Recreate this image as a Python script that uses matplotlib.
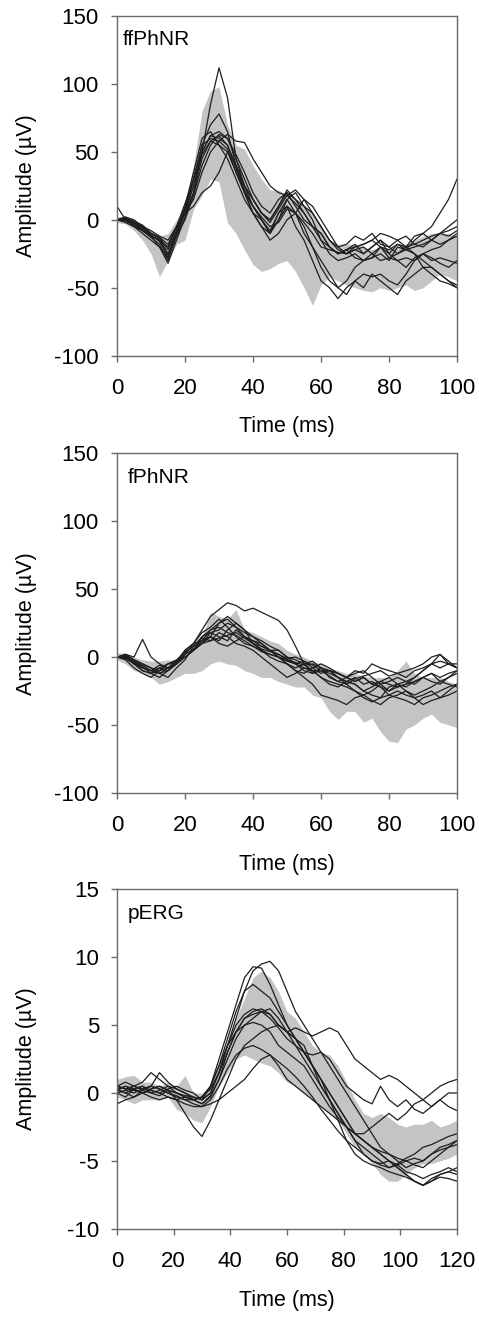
import matplotlib.pyplot as plt
import numpy as np

plt.rcParams['font.family'] = ['Liberation Sans', 'DejaVu Sans']
plt.rcParams['axes.unicode_minus'] = False

# time base (ms)
t_phnr = [0, 2.5, 5, 7.5, 10, 12.5, 15, 17.5, 20, 22.5, 25, 27.5, 30, 32.5, 35, 37.5, 40,
          42.5, 45, 47.5, 50, 52.5, 55, 57.5, 60, 62.5, 65, 67.5, 70, 72.5, 75, 77.5, 80,
          82.5, 85, 87.5, 90, 92.5, 95, 97.5, 100]
t_perg = [0, 3, 6, 9, 12, 15, 18, 21, 24, 27, 30, 33, 36, 39, 42, 45, 48, 51, 54, 57, 60,
          63, 66, 69, 72, 75, 78, 81, 84, 87, 90, 93, 96, 99, 102, 105, 108, 111, 114, 117, 120]

# ffPhNR: normal range and individual traces (uV)
ff_upper = [2, 3, 0, -3, -8, -12, -10, 0, 10, 40, 80, 95, 98, 70, 55, 52, 40, 30, 22, 22,
            18, 15, 10, 5, -5, -15, -18, -18, -18, -20, -22, -20, -22, -20, -18, -15, -12,
            -10, -10, -10, -12]
ff_lower = [-2, -3, -8, -15, -25, -42, -30, -18, -15, 8, 18, 30, 28, -2, -10, -22, -33, -38,
            -36, -32, -30, -38, -50, -63, -48, -42, -45, -48, -50, -52, -53, -50, -52, -50,
            -48, -52, -50, -45, -40, -42, -45]
ff_traces = [
    [0, -2, -5, -10, -15, -20, -28, -12, 5, 20, 50, 85, 112, 90, 45, 25, 15, 5, 0, 10, 20, 10,
     0, -5, -10, -20, -25, -22, -18, -25, -20, -15, -25, -18, -22, -20, -18, -15, -10, -12, -8],
    [0, 1, -3, -8, -13, -18, -30, -10, 8, 30, 55, 70, 78, 65, 40, 20, 10, 0, -10, 5, 15, 5,
     -10, -20, -35, -45, -50, -45, -35, -30, -28, -25, -30, -20, -22, -25, -30, -35, -40, -45, -48],
    [0, 0, -3, -6, -12, -15, -20, -5, 5, 15, 35, 50, 58, 63, 58, 57, 45, 35, 25, 20, 18, 12,
     5, -5, -15, -20, -25, -22, -20, -18, -15, -20, -25, -30, -28, -30, -25, -28, -32, -35, -30],
    [0, 2, -2, -5, -8, -12, -15, -5, 5, 10, 20, 25, 35, 50, 40, 25, 10, 0, -10, 0, 10, 5,
     -5, -20, -30, -40, -50, -55, -45, -50, -40, -45, -50, -55, -45, -40, -35, -35, -40, -45, -50],
    [0, 0, -2, -5, -10, -13, -22, -8, 8, 25, 50, 62, 60, 55, 40, 25, 15, 5, 0, 10, 22, 15,
     10, 5, -5, -15, -20, -25, -22, -25, -20, -15, -20, -25, -22, -15, -10, -5, 5, 15, 30],
    [0, 1, -1, -4, -10, -14, -25, -10, 5, 30, 55, 60, 58, 52, 35, 20, 5, -5, -10, 0, 15, 20,
     10, 0, -15, -25, -30, -28, -25, -30, -28, -20, -22, -18, -20, -25, -35, -40, -45, -47, -50],
    [0, 2, 0, -5, -12, -20, -32, -15, 2, 20, 45, 58, 62, 55, 38, 22, 10, 2, -5, -2, 8, 5,
     -2, -10, -20, -22, -24, -25, -22, -20, -25, -30, -28, -25, -20, -18, -15, -12, -10, -8, -5],
    [0, 0, -3, -7, -11, -16, -26, -8, 10, 35, 60, 65, 55, 45, 30, 15, 5, -5, -15, -10, 0, 5,
     15, 10, 0, -10, -20, -18, -12, -15, -10, -18, -20, -15, -12, -18, -20, -15, -10, -5, 0],
    [10, 0, -5, -8, -12, -15, -20, -5, 5, 25, 48, 58, 55, 50, 35, 20, 5, 0, -8, 5, 10, -5,
     -15, -30, -45, -50, -58, -50, -45, -40, -42, -40, -45, -48, -40, -30, -25, -30, -28, -30, -32],
    [0, -1, -4, -8, -12, -15, -28, -12, 0, 18, 40, 55, 63, 60, 45, 30, 15, 5, -2, 8, 18, 22,
     15, 5, -5, -15, -22, -25, -20, -18, -15, -10, -12, -15, -20, -12, -10, -15, -18, -15, -12],
    [0, 1, -2, -6, -10, -13, -18, -5, 12, 30, 50, 62, 65, 60, 48, 35, 20, 10, 5, 15, 20, 15,
     5, -5, -10, -20, -25, -22, -28, -30, -25, -20, -28, -30, -35, -28, -25, -22, -20, -15, -10],
]

# fPhNR
f_upper = [3, 3, 0, -2, -3, -3, -2, -3, 0, 5, 15, 33, 30, 28, 35, 20, 18, 15, 12, 10, 5, 2,
           0, -3, -5, -8, -10, -12, -12, -14, -15, -15, -15, -10, -3, -12, -15, -15, -15, -18, -20]
f_lower = [-2, -5, -10, -12, -15, -20, -18, -15, -12, -12, -10, -5, -3, -5, -6, -10, -12, -15,
           -15, -18, -20, -22, -22, -28, -30, -40, -46, -40, -40, -48, -45, -55, -62, -63, -53,
           -50, -45, -42, -48, -50, -52]
f_traces = [
    [0, 0, -5, -8, -10, -12, -10, -3, 5, 10, 20, 30, 35, 40, 38, 34, 36, 33, 30, 27, 20, 8,
     -5, -12, -10, -10, -12, -15, -18, -15, -20, -22, -25, -20, -25, -28, -25, -22, -18, -15, -10],
    [0, 2, 0, 13, 0, -5, -8, -3, 0, 5, 10, 15, 25, 30, 25, 20, 15, 10, 5, 0, -3, -5,
     -8, -10, -10, -12, -15, -20, -25, -30, -33, -30, -28, -30, -32, -35, -30, -28, -25, -22, -20],
    [0, -2, -8, -12, -15, -10, -5, -3, 0, 5, 15, 20, 25, 28, 22, 18, 15, 12, 8, 5, 0, -2,
     -5, -10, -15, -20, -22, -18, -20, -25, -28, -30, -22, -20, -18, -15, -10, -5, -8, -5, -8],
    [0, 1, -3, -6, -10, -8, -5, -2, 3, 8, 15, 18, 15, 12, 20, 15, 10, 8, 5, 2, -2, -5,
     -10, -12, -8, -15, -18, -15, -12, -10, -15, -20, -25, -22, -20, -15, -10, -5, 2, -5, -5],
    [0, 0, -5, -10, -12, -8, -10, -5, 0, 5, 10, 12, 18, 15, 10, 8, 5, 0, -5, -10, -15, -12,
     -8, -10, -15, -18, -20, -22, -25, -28, -32, -35, -30, -28, -25, -30, -35, -32, -30, -25, -20],
    [0, -1, -4, -8, -10, -12, -8, -5, 5, 10, 12, 15, 12, 20, 25, 20, 10, 5, 2, 0, -5, -8,
     -5, -3, -8, -10, -15, -18, -20, -25, -22, -18, -15, -20, -22, -18, -15, -12, -15, -12, -10],
    [0, 1, -2, -5, -8, -10, -5, -5, 2, 10, 18, 22, 28, 22, 15, 10, 8, 5, 0, -3, -5, -10,
     -12, -8, -5, -8, -12, -15, -10, -12, -5, -8, -10, -12, -15, -10, -8, -5, -3, -5, -8],
    [0, 0, -3, -7, -12, -15, -10, -5, 0, 5, 12, 15, 10, 8, 12, 15, 12, 10, 5, 0, -5, -10,
     -15, -20, -28, -30, -32, -35, -30, -28, -25, -20, -18, -15, -18, -20, -15, -12, -18, -20, -22],
    [0, 2, -2, -5, -8, -12, -15, -8, -2, 8, 10, 18, 20, 25, 22, 15, 12, 8, 5, 5, 0, -5,
     -3, -8, -12, -10, -15, -18, -15, -20, -18, -22, -28, -25, -28, -30, -28, -25, -30, -28, -25],
    [0, -1, -5, -10, -12, -10, -8, -4, 2, 6, 12, 20, 22, 18, 16, 12, 8, 4, 2, 0, -2, -4,
     -6, -5, -8, -10, -12, -15, -18, -15, -20, -18, -20, -22, -20, -18, -15, -18, -20, -15, -12],
    [0, 0, -4, -8, -10, -6, -8, -3, 4, 8, 14, 12, 14, 16, 18, 14, 10, 6, 4, 2, -1, 0,
     -3, -6, -10, -14, -18, -20, -16, -14, -12, -10, -14, -12, -10, -8, -5, 0, 2, -3, -8],
]

# pERG
p_upper = [1.0, 1.2, 1.3, 0.8, 0.8, 0.5, 0.8, 0.5, 1.3, 0.0, 0.0, 0.5, 2.0, 3.5, 5.5, 7.0,
           8.5, 9.0, 8.5, 7.5, 6.0, 5.5, 4.5, 3.5, 3.0, 2.8, 2.0, 0.8, -0.5, -1.5, -1.8, -1.5,
           -1.8, -2.3, -2.5, -2.3, -2.3, -2.0, -2.5, -2.3, -2.0]
p_lower = [-0.3, -0.5, -0.8, -0.5, -0.5, -0.5, -0.3, -1.2, -1.5, -2.0, -2.2, -1.0, 0.5, 1.5,
           2.5, 2.8, 2.5, 2.2, 2.0, 1.5, 0.8, 0.5, 0.0, -0.5, -1.0, -1.5, -2.0, -3.0, -4.0,
           -4.5, -5.2, -6.0, -6.5, -6.5, -6.0, -5.5, -5.2, -5.2, -5.0, -4.8, -4.5]
p_traces = [
    [0.3, 0.5, 0.2, 0.0, 0.3, 0.5, 0.2, 0.0, -0.2, -0.3, -0.5, 0.0, 1.5, 3.5, 5.5, 7.5, 9.0,
     9.5, 9.7, 9.0, 7.5, 6.0, 5.0, 4.0, 3.0, 2.0, 1.0, 0.0, -1.0, -2.0, -3.0, -4.0, -4.5,
     -5.0, -5.5, -5.2, -5.0, -4.5, -4.0, -3.8, -3.5],
    [0.5, 0.3, 0.5, 0.2, 0.0, 0.2, 0.5, 0.3, 0.0, -0.3, -0.5, 0.5, 2.5, 4.5, 6.5, 8.5, 9.3,
     9.2, 8.0, 6.5, 5.0, 4.0, 3.0, 2.0, 1.0, -0.5, -2.0, -3.5, -4.5, -5.0, -5.3, -5.5, -5.8,
     -6.0, -6.2, -6.5, -6.8, -6.5, -6.0, -5.8, -6.0],
    [0.0, 0.2, 0.0, 0.3, 0.5, 0.3, 0.0, -0.3, -0.5, -0.5, -0.3, 0.5, 2.0, 4.0, 6.0, 7.5, 8.0,
     7.5, 7.0, 6.0, 5.0, 4.0, 3.0, 2.0, 0.5, -0.5, -1.5, -2.5, -3.5, -4.0, -4.5, -5.0, -5.5,
     -5.3, -5.0, -4.8, -5.0, -4.5, -4.2, -4.0, -3.5],
    [0.5, 0.8, 0.5, 0.3, 0.5, 1.5, 0.8, 0.3, 0.0, -0.5, -0.8, -0.3, 1.0, 3.0, 4.5, 5.5, 6.0,
     6.2, 5.8, 5.0, 4.5, 4.8, 4.5, 4.2, 4.5, 4.8, 4.5, 3.5, 2.5, 2.0, 1.5, 1.0, 1.3, 1.0,
     0.5, 0.0, -0.5, 0.0, 0.5, 0.8, 1.0],
    [0.2, 0.0, 0.3, 0.5, 0.2, 0.0, 0.3, 0.5, 0.2, 0.0, -0.5, 0.0, 1.5, 3.5, 5.0, 5.8, 6.2,
     6.0, 5.5, 4.8, 4.0, 3.5, 3.0, 2.8, 3.0, 2.5, 1.5, 0.5, 0.0, -0.5, -0.8, 0.5, -0.5,
     -1.0, -0.5, -1.2, -1.5, -1.0, -0.5, -1.0, -1.3],
    [-0.8, -0.5, -0.3, 0.0, 0.3, 0.5, 0.2, -0.5, -1.5, -2.5, -3.2, -2.0, -0.5, 1.0, 2.5, 3.5,
     4.0, 4.5, 4.8, 5.0, 4.5, 4.0, 3.0, 2.0, 1.0, 0.0, -1.0, -2.0, -3.0, -3.5, -4.0, -4.3,
     -4.5, -4.8, -5.0, -5.3, -5.5, -5.0, -4.5, -4.0, -3.8],
    [0.5, 0.3, 0.2, 0.0, -0.3, -0.5, -0.3, -0.5, -0.8, -1.0, -1.0, -0.8, -0.5, 0.0, 0.5, 1.0,
     1.8, 2.5, 2.8, 2.0, 1.0, 0.5, 0.0, -0.5, -1.0, -1.5, -2.0, -2.5, -3.0, -3.5, -4.0, -4.5,
     -5.0, -5.5, -6.0, -6.5, -6.8, -6.5, -6.2, -6.3, -6.5],
    [0.3, 0.0, -0.3, 0.2, 0.5, 0.3, 0.0, -0.2, -0.5, -0.8, -1.0, -0.5, 0.5, 1.8, 2.8, 3.3,
     3.5, 3.2, 2.8, 2.3, 1.8, 1.2, 0.5, -0.3, -1.2, -2.0, -2.8, -3.5, -4.0, -4.5, -5.0, -5.2,
     -5.0, -5.3, -5.8, -6.0, -6.3, -6.0, -5.8, -5.5, -5.8],
    [0.0, -0.3, 0.3, 0.5, 0.0, -0.2, 0.2, 0.0, -0.3, -0.5, -0.3, 0.3, 1.5, 3.0, 4.5, 5.5, 5.8,
     6.0, 5.8, 5.0, 4.5, 4.0, 3.5, 2.0, 1.0, 0.0, -1.0, -2.0, -3.0, -3.5, -4.0, -4.5, -5.0,
     -5.5, -6.0, -6.5, -6.8, -6.3, -6.0, -5.8, -5.5],
    [0.5, 0.3, 0.5, 0.8, 1.5, 1.0, 0.5, 0.0, -0.3, -0.5, -0.3, 0.5, 2.0, 3.5, 4.5, 5.0, 5.2,
     5.0, 4.5, 3.5, 3.0, 2.5, 2.0, 1.0, 0.0, -1.0, -1.8, -2.5, -3.0, -3.0, -2.5, -2.0, -1.5,
     -2.0, -1.5, -0.8, -0.5, -1.0, -0.5, 0.0, 0.0],
    [0.2, 0.5, 0.3, 0.0, 0.2, 0.0, -0.3, -0.5, -0.3, -0.5, -0.8, -0.2, 1.0, 2.5, 4.0, 5.0, 5.5,
     6.0, 6.2, 5.5, 4.5, 3.5, 2.5, 1.5, 0.5, -0.5, -1.5, -2.5, -3.5, -4.5, -5.0, -5.3, -5.5,
     -5.2, -4.8, -4.5, -4.0, -3.8, -3.5, -3.2, -3.0],
]

panels = [
    ("ffPhNR", t_phnr, ff_upper, ff_lower, ff_traces, (-100, 150), [-100, -50, 0, 50, 100, 150],
     (0, 100), [0, 20, 40, 60, 80, 100], 0.730, 0.016),
    ("fPhNR", t_phnr, f_upper, f_lower, f_traces, (-100, 150), [-100, -50, 0, 50, 100, 150],
     (0, 100), [0, 20, 40, 60, 80, 100], 0.398, 0.032),
    ("pERG", t_perg, p_upper, p_lower, p_traces, (-10, 15), [-10, -5, 0, 5, 10, 15],
     (0, 120), [0, 20, 40, 60, 80, 100, 120], 0.067, 0.032),
]

fig = plt.figure(figsize=(4.79, 13.17), dpi=100)

for name, t, up, lo, traces, ylim, yticks, xlim, xticks, bottom, tx in panels:
    ax = fig.add_axes([0.2443, bottom, 0.7098, 0.2577])
    ax.fill_between(t, lo, up, color='#c4c4c4', linewidth=0)
    for tr in traces:
        ax.plot(t, tr, color='#1e1e1e', linewidth=0.9)
    ax.set_xlim(*xlim)
    ax.set_ylim(*ylim)
    ax.set_xticks(xticks)
    ax.set_yticks(yticks)
    for s in ax.spines.values():
        s.set_color('#6a6a6a')
        s.set_linewidth(1.0)
    ax.tick_params(direction='out', length=4, width=1, color='#6a6a6a', labelsize=16)
    ax.tick_params(axis='x', pad=12)
    ax.tick_params(axis='y', pad=9)
    ax.set_xlabel('Time (ms)', fontsize=15.5)
    ax.set_ylabel('Amplitude (µV)', fontsize=15.5)
    ax.xaxis.set_label_coords(0.5, -0.179)
    ax.yaxis.set_label_coords(-0.235, 0.5)
    ax.text(tx, 0.958, name, transform=ax.transAxes, fontsize=15, va='top', ha='left')

plt.savefig('out.png', dpi=100)
